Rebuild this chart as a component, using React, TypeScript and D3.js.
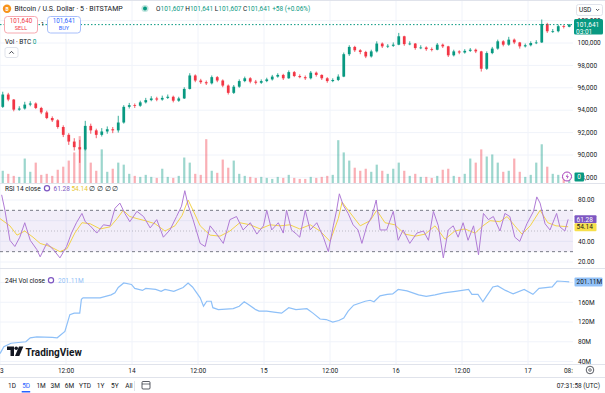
import React from 'react';
import * as d3 from 'd3';

// hourly candles from 2025-01-13 00:00 UTC (open of first = firstOpen, then previous close)
const firstOpen = 94300;
const closes = [
  95400, 94950, 94050, 94150, 94500, 94600, 94200, 93800, 93300, 93100,
  92500, 91800, 91200, 90700, 90500, 92600, 92200, 91800, 92100, 92300,
  92200, 92900, 94300, 94450, 94400, 94700, 94900, 95050, 94950, 95100,
  95200, 94850, 95050, 95900, 97100, 96650, 96500, 96400, 96950, 96650,
  96200, 95550, 96100, 96600, 96850, 96550, 96450, 96600, 96750, 97000,
  97150, 96850, 97400, 97050, 96950, 96850, 97350, 97150, 96850, 96600,
  96700, 97000, 99000, 99650, 99350, 99200, 98800, 99250, 99950, 99700,
  99750, 99850, 100600, 99900, 99950, 99550, 99600, 99450, 99400, 99850,
  99700, 98900, 99250, 99150, 99300, 99400, 99250, 97700, 99100, 99500,
  100150, 99850, 100300, 100050, 99700, 99800, 100000, 100050, 101700, 101050,
  101050, 101500, 101450, 101641,
];
const highs = [
  95650, 95550, 95000, 94350, 94750, 94800, 94700, 94300, 93950, 93450,
  93200, 92650, 91950, 91500, 91350, 93050, 92800, 92350, 92400, 92550,
  92500, 93500, 94450, 94650, 94600, 94850, 95100, 95250, 95200, 95300,
  95400, 95300, 95200, 96050, 97300, 97200, 96800, 96650, 97100, 97050,
  96750, 96300, 96250, 96750, 97000, 96950, 96700, 96750, 96900, 97150,
  97300, 97250, 97550, 97500, 97200, 97100, 97500, 97450, 97200, 96950,
  96850, 97200, 99150, 99800, 99750, 99450, 99300, 99400, 100150, 100050,
  99900, 100050, 100900, 100650, 100150, 100000, 99800, 99700, 99600, 100000,
  99950, 99750, 99400, 99350, 99450, 99550, 99500, 99300, 99250, 99650,
  100300, 100250, 100550, 100400, 100100, 99950, 100150, 100250, 102100, 101800,
  101250, 101650, 101600, 101700,
];
const lows = [
  94200, 94800, 93900, 93950, 94050, 94350, 94100, 93650, 93200, 92950,
  92350, 91600, 90900, 90400, 89300, 90400, 91900, 91500, 91650, 91900,
  91950, 92000, 92800, 94150, 94200, 94300, 94600, 94800, 94800, 94850,
  95000, 94700, 94750, 95000, 95850, 96500, 96350, 96250, 96300, 96500,
  96050, 95400, 95450, 96000, 96500, 96400, 96300, 96350, 96500, 96650,
  96900, 96700, 96800, 96950, 96850, 96700, 96750, 97000, 96700, 96450,
  96500, 96600, 96950, 98850, 99200, 99000, 98650, 98700, 99150, 99550,
  99550, 99650, 99800, 99750, 99800, 99400, 99450, 99300, 99250, 99350,
  99550, 98750, 98800, 99000, 99050, 99200, 99100, 97450, 97600, 99000,
  99400, 99700, 99750, 99900, 99500, 99600, 99700, 99900, 100000, 100900,
  100900, 100950, 101300, 101400,
];
const volumes = [
  120, 90, 70, 60, 240, 110, 200, 80, 90, 70,
  130, 160, 220, 300, 460, 350, 200, 120, 330, 110,
  140, 200, 180, 90, 70, 60, 80, 60, 50, 140,
  60, 50, 70, 250, 200, 90, 80, 430, 120, 100,
  230, 150, 220, 90, 70, 60, 50, 60, 50, 40,
  60, 50, 80, 50, 40, 40, 60, 50, 60, 70,
  80, 420, 300, 220, 150, 120, 140, 110, 180, 120,
  90, 140, 200, 120, 70, 90, 60, 60, 50, 70,
  130, 140, 70, 60, 90, 240, 200, 330, 260, 280,
  200, 110, 120, 240, 110, 60, 80, 200, 380, 160,
  90, 80, 60, 40,
];

// RSI 14 (hours since 13 Jan 00:00 UTC)
const rsiHours = [
  0.3, 0.9, 1.8, 2.7, 3.6, 4.5, 5.5, 6.7, 7.3, 8.5,
  9.7, 10.9, 12.1, 13.0, 13.9, 14.9, 15.5, 16.4, 17.6, 18.8,
  20.0, 20.9, 21.8, 22.7, 23.6, 24.9, 26.1, 27.3, 28.5, 29.7,
  30.9, 32.1, 33.0, 33.6, 34.2, 35.1, 36.4, 37.3, 38.2, 39.4,
  40.6, 41.8, 43.0, 44.2, 45.5, 46.7, 47.9, 48.5, 49.4, 50.6,
  51.5, 52.1, 53.0, 53.9, 54.5, 55.5, 56.4, 57.6, 58.8, 59.7,
  60.6, 61.2, 61.7, 62.4, 63.3, 64.2, 65.1, 65.8, 66.7, 67.6,
  68.4, 69.1, 70.3, 71.5, 72.4, 73.3, 74.5, 75.8, 77.0, 77.9,
  78.8, 79.7, 80.6, 81.5, 82.4, 83.3, 84.2, 85.1, 86.1, 87.0,
  87.9, 88.8, 89.7, 90.9, 91.8, 92.7, 93.6, 94.5, 95.8, 97.0,
  97.6, 98.2, 99.1, 100.0, 101.2, 101.8, 102.7, 103.3,
];
const rsiValues = [
  85, 70, 41, 35, 44, 58, 41, 32, 25, 38,
  32, 24, 35, 48, 58, 67, 59, 55, 48, 56,
  55, 72, 77, 67, 59, 69, 64, 53, 61, 44,
  51, 64, 74, 89, 75, 61, 38, 35, 55, 47,
  38, 61, 64, 51, 58, 47, 55, 70, 51, 58,
  48, 70, 51, 47, 44, 70, 51, 58, 44, 30,
  55, 70, 86, 75, 67, 56, 51, 38, 55, 64,
  80, 51, 51, 69, 41, 51, 38, 48, 50, 41,
  69, 55, 24, 51, 55, 44, 58, 41, 55, 27,
  67, 61, 64, 50, 67, 64, 44, 40, 57, 69,
  83, 77, 57, 51, 67, 54, 50, 61.28,
];
const rsiMaHours = [
  0, 1.8, 3.1, 4.5, 6.0, 7.3, 9.1, 10.9, 12.2, 13.6,
  14.9, 16.4, 18.2, 20.0, 21.3, 22.4, 23.6, 24.9, 26.4, 28.2,
  30.0, 31.8, 33.1, 34.2, 35.1, 36.4, 38.2, 40.0, 41.8, 43.6,
  45.5, 47.3, 49.1, 50.9, 52.7, 54.5, 56.4, 58.2, 60.0, 61.5,
  62.2, 63.6, 65.5, 67.3, 68.5, 70.0, 71.8, 73.6, 75.5, 77.3,
  79.1, 80.9, 82.7, 84.5, 86.4, 87.8, 89.1, 90.9, 92.2, 93.6,
  94.9, 96.4, 98.2, 99.6, 101.1, 103.3,
];
const rsiMaValues = [
  62, 55, 46, 50, 44, 38, 35, 30, 33, 48,
  58, 57, 52, 54, 62, 70, 64, 62, 60, 57,
  50, 55, 65, 80, 70, 55, 46, 45, 50, 58,
  56, 52, 56, 55, 56, 52, 56, 50, 40, 62,
  78, 68, 55, 60, 70, 58, 56, 47, 45, 47,
  55, 42, 50, 52, 48, 55, 60, 59, 64, 55,
  47, 55, 70, 58, 55, 54.14,
];

// 24H volume (millions)
const vol24Hours = [
  0, 0.7, 2.0, 4.7, 5.5, 6.7, 9.5, 10.4, 11.8, 12.7,
  13.5, 14.5, 14.8, 15.1, 18.2, 20.2, 20.9, 21.5, 22.5, 23.9,
  24.5, 25.9, 26.5, 28.3, 29.3, 30.0, 31.6, 33.3, 34.2, 35.0,
  36.4, 37.0, 37.6, 38.4, 38.7, 39.7, 42.4, 43.5, 44.4, 45.1,
  46.5, 47.1, 48.5, 49.8, 51.2, 52.5, 53.8, 55.8, 56.9, 58.2,
  59.3, 60.5, 61.6, 62.5, 63.3, 64.3, 66.4, 67.3, 68.0, 69.1,
  70.4, 71.4, 72.4, 74.0, 76.1, 77.5, 79.1, 80.7, 82.8, 85.2,
  85.8, 86.9, 87.8, 88.5, 89.6, 90.5, 91.9, 93.3, 95.3, 96.9,
  98.0, 100.4, 101.3, 102.7, 103.5,
];
const vol24Values = [
  56, 70, 77, 80, 88, 90, 89, 88, 101, 135,
  138, 138, 166, 169, 169, 175, 179, 190, 199, 196,
  188, 184, 188, 186, 182, 186, 182, 190, 199, 191,
  169, 152, 162, 162, 149, 145, 147, 152, 161, 156,
  145, 142, 142, 140, 138, 149, 145, 147, 138, 126,
  125, 120, 123, 128, 142, 154, 162, 164, 161, 173,
  176, 177, 186, 183, 175, 172, 175, 179, 182, 186,
  176, 176, 161, 173, 191, 193, 184, 177, 186, 176,
  188, 191, 203, 202, 201.11,
];

const priceTicks = [88000, 90000, 92000, 94000, 96000, 98000, 100000, 102000];
const rsiTicks = [20, 40, 80];
const vol24Ticks = [40, 80, 120, 160];
const rangeButtons = ['1D', '5D', '1M', '3M', '6M', 'YTD', '1Y', '5Y', 'All'];

const UP = '#089981';
const DOWN = '#F23645';
const TXT = '#131722';
const GRID = '#F0F3FA';
const SEP = '#E0E3EB';
const PLOT_W = 573;

const T0 = Date.UTC(2025, 0, 13, 0);
const hourDate = (h: number) => new Date(T0 + h * 3600e3);

export default function App() {
  const x = d3.scaleUtc().domain([hourDate(0), hourDate(104)]).range([0, 572]);
  const priceY = d3.scaleLinear().domain([88000, 102000]).range([177.4, 20.6]);
  const volY = d3.scaleLinear().domain([0, 520]).range([183, 130]);
  const rsiY = d3.scaleLinear().domain([20, 80]).range([262, 200]);
  const v24Y = d3.scaleLinear().domain([40, 200]).range([361.5, 282.5]);

  const candles = closes.map((c, i) => ({
    t: i + 0.5,
    o: i === 0 ? firstOpen : closes[i - 1],
    h: highs[i],
    l: lows[i],
    c,
    v: volumes[i],
  }));
  const step = x(hourDate(1)) - x(hourDate(0));
  const bw = step * 0.5;
  const vw = step * 0.4;

  const rsiLine = d3.line<number>().x((_, i) => x(hourDate(rsiHours[i]))).y(d => rsiY(d));
  const maLine = d3.line<number>().x((_, i) => x(hourDate(rsiMaHours[i]))).y(d => rsiY(d));
  const v24Line = d3.line<number>().x((_, i) => x(hourDate(vol24Hours[i]))).y(d => v24Y(d));

  const gridTimes = d3.utcHour.every(12)!.range(hourDate(0), hourDate(104));
  const fmtTick = (d: Date) => (d.getUTCHours() === 0 ? d3.utcFormat('%-d')(d) : d3.utcFormat('%H:%M')(d));
  const timeTicks = [...gridTimes, hourDate(104)];

  const last = closes[closes.length - 1];
  const lastY = priceY(last);
  const fmtP = d3.format(',');

  let bx = 8;
  const buttons = rangeButtons.map(b => {
    const pos = bx;
    bx += b.length * 3.6 + 7;
    return { b, pos };
  });

  return (
    <svg width={605} height={393} style={{ position: 'fixed', left: 0, top: 0, background: '#fff' }}
      fontFamily="Roboto, 'Noto Sans', sans-serif">
      <defs>
        <clipPath id="cMain"><rect x={0} y={0} width={PLOT_W} height={183} /></clipPath>
        <clipPath id="cRsi"><rect x={0} y={184} width={PLOT_W} height={84} /></clipPath>
        <clipPath id="cV24"><rect x={0} y={269} width={PLOT_W} height={95} /></clipPath>
        <clipPath id="cTime"><rect x={0} y={364} width={PLOT_W} height={13} /></clipPath>
      </defs>
      <rect width={605} height={393} fill="#fff" />

      {/* grid */}
      {gridTimes.map((d, i) => (
        <line key={'vg' + i} x1={x(d)} x2={x(d)} y1={0} y2={364} stroke={GRID} />
      ))}
      {priceTicks.map(p => (
        <line key={'pg' + p} x1={0} x2={PLOT_W} y1={priceY(p)} y2={priceY(p)} stroke={GRID} />
      ))}
      {[...rsiTicks, 60].map(r => (
        <line key={'rg' + r} x1={0} x2={PLOT_W} y1={rsiY(r)} y2={rsiY(r)} stroke={GRID} />
      ))}
      {[...vol24Ticks, 200].map(v => (
        <line key={'v24g' + v} x1={0} x2={PLOT_W} y1={v24Y(v)} y2={v24Y(v)} stroke={GRID} />
      ))}

      {/* main pane: volume + candles */}
      <g clipPath="url(#cMain)">
        {candles.map((d, i) => (
          <rect key={'v' + i} x={x(hourDate(d.t)) - vw / 2} width={vw} y={volY(d.v)} height={volY(0) - volY(d.v)}
            fill={d.c >= d.o ? UP : DOWN} fillOpacity={0.4} />
        ))}
        {candles.map((d, i) => {
          const cx = x(hourDate(d.t));
          const col = d.c >= d.o ? UP : DOWN;
          const top = priceY(Math.max(d.o, d.c));
          const bot = priceY(Math.min(d.o, d.c));
          return (
            <g key={'c' + i}>
              <line x1={cx} x2={cx} y1={priceY(d.h)} y2={priceY(d.l)} stroke={col} strokeWidth={0.8} />
              <rect x={cx - bw / 2} width={bw} y={top} height={Math.max(0.8, bot - top)} fill={col} />
            </g>
          );
        })}
        <line x1={0} x2={PLOT_W} y1={lastY} y2={lastY} stroke={UP} strokeDasharray="1.5,2" />
      </g>

      {/* RSI pane */}
      <g clipPath="url(#cRsi)">
        <rect x={0} width={PLOT_W} y={rsiY(70)} height={rsiY(30) - rsiY(70)} fill="rgba(126,87,194,0.1)" />
        <line x1={0} x2={PLOT_W} y1={rsiY(70)} y2={rsiY(70)} stroke="#787B86" strokeDasharray="3,3" />
        <line x1={0} x2={PLOT_W} y1={rsiY(30)} y2={rsiY(30)} stroke="#787B86" strokeDasharray="3,3" />
        <line x1={0} x2={PLOT_W} y1={rsiY(50)} y2={rsiY(50)} stroke="rgba(120,123,134,0.45)" strokeDasharray="1,2" />
        <path d={maLine(rsiMaValues) || ''} fill="none" stroke="#F3D34A" strokeWidth={1} />
        <path d={rsiLine(rsiValues) || ''} fill="none" stroke="#B07BD6" strokeWidth={1} />
      </g>

      {/* 24H vol pane */}
      <g clipPath="url(#cV24)">
        <path d={v24Line(vol24Values) || ''} fill="none" stroke="#8EC0F8" strokeWidth={1.2} />
      </g>

      {/* pane separators */}
      <line x1={0} x2={605} y1={183.5} y2={183.5} stroke={SEP} />
      <line x1={0} x2={605} y1={268.5} y2={268.5} stroke={SEP} />
      <line x1={0} x2={605} y1={364.5} y2={364.5} stroke={SEP} />
      <line x1={0} x2={605} y1={0.5} y2={0.5} stroke={SEP} />

      {/* price axis */}
      <g fontSize={6.5} fill={TXT}>
        {priceTicks.map(p => (
          <text key={'pt' + p} x={577.5} y={priceY(p)} dy="0.35em">{fmtP(p)}</text>
        ))}
        {rsiTicks.map(r => (
          <text key={'rt' + r} x={578} y={rsiY(r)} dy="0.35em">{r.toFixed(2)}</text>
        ))}
        {vol24Ticks.map(v => (
          <text key={'vt' + v} x={578} y={v24Y(v)} dy="0.35em">{v + 'M'}</text>
        ))}
      </g>

      {/* USD dropdown */}
      <rect x={576.5} y={4.5} width={26} height={11} rx={2} fill="#fff" stroke={SEP} />
      <text x={579} y={12.3} fontSize={6.5} fill={TXT}>USD</text>
      <path d="M596 9 l1.6 1.6 l1.6 -1.6" fill="none" stroke={TXT} strokeWidth={0.7} />

      {/* last price label */}
      <rect x={574} y={lastY - 5.5} width={29} height={15.5} rx={1.5} fill={UP} />
      <text x={576} y={lastY} dy="0.35em" fontSize={6.5} fill="#fff">{fmtP(last)}</text>
      <text x={576} y={lastY + 7.5} dy="0.35em" fontSize={6.5} fill="#fff">03:01</text>

      {/* volume last value */}
      <circle cx={567} cy={176.5} r={4.5} fill="#fff" stroke="#9C27B0" strokeWidth={0.9} />
      <path d="M567.8 173.8 l-2 3 h1.6 l-0.8 2.6 l2.2 -3.2 h-1.6 z" fill="#9C27B0" />
      <rect x={574.5} y={172.5} width={9.5} height={9} rx={1} fill={UP} />
      <text x={579.2} y={177} dy="0.35em" fontSize={6.5} fill="#fff" textAnchor="middle">0</text>

      {/* RSI labels */}
      <rect x={574.5} y={rsiY(61.28) - 4} width={22} height={8} rx={1} fill="#7E57C2" />
      <text x={576.5} y={rsiY(61.28)} dy="0.35em" fontSize={6.5} fill="#fff">61.28</text>
      <rect x={574.5} y={rsiY(54.14) - 3.5} width={22} height={8} rx={1} fill="#F7E04B" />
      <text x={576.5} y={rsiY(54.14) + 0.5} dy="0.35em" fontSize={6.5} fill={TXT}>54.14</text>

      {/* 24H label */}
      <rect x={574.5} y={v24Y(201.11) - 4.5} width={28} height={9} rx={1} fill="#91C1F8" />
      <text x={576.5} y={v24Y(201.11)} dy="0.35em" fontSize={6.5} fill={TXT}>201.11M</text>

      {/* time axis */}
      <g clipPath="url(#cTime)" fontSize={6.5} fill={TXT}>
        {timeTicks.map((d, i) => (
          <text key={'tt' + i} x={x(d)} y={370.5} dy="0.35em" textAnchor="middle">{fmtTick(d)}</text>
        ))}
      </g>
      <circle cx={590} cy={370} r={3.8} fill="none" stroke={TXT} strokeWidth={0.7} />
      <circle cx={590} cy={370} r={1.3} fill="none" stroke={TXT} strokeWidth={0.6} />

      {/* bottom toolbar */}
      <line x1={0} x2={605} y1={377.5} y2={377.5} stroke={SEP} />
      <g fontSize={6.5}>
        {buttons.map(({ b, pos }) => (
          <text key={b} x={pos} y={388} fill={b === '5D' ? '#2962FF' : TXT}>{b}</text>
        ))}
      </g>
      {buttons.filter(d => d.b === '5D').map(d => (
        <rect key="ul" x={d.pos - 0.5} y={391} width={8.5} height={1.5} fill="#2962FF" />
      ))}
      <line x1={134.5} x2={134.5} y1={381} y2={391} stroke={SEP} />
      <rect x={142} y={381.5} width={8} height={7.5} rx={1} fill="none" stroke={TXT} strokeWidth={0.7} />
      <line x1={142} x2={150} y1={384} y2={384} stroke={TXT} strokeWidth={0.6} />
      <text x={600} y={388} fontSize={6.5} fill={TXT} textAnchor="end">07:31:58 (UTC)</text>

      {/* TradingView logo */}
      <g fill={TXT}>
        <path d="M7 346.5 h7 v9.5 h-3.5 v-6 h-3.5 z" />
        <circle cx={16.2} cy={348.3} r={1.8} />
        <path d="M19 346.5 h4.3 l-4 9.5 h-4.3 z" />
        <text x={25.5} y={355.5} fontSize={10} fontWeight="bold">TradingView</text>
      </g>

      {/* collapse button */}
      <rect x={5} y={47.5} width={13} height={10} rx={2} fill="#fff" stroke={SEP} />
      <path d="M9.3 53.6 l2.2 -2.2 l2.2 2.2" fill="none" stroke={TXT} strokeWidth={0.8} />

      {/* header legend */}
      <circle cx={7} cy={8.8} r={4.2} fill="#F7931A" />
      <text x={7} y={8.8} dy="0.35em" fontSize={5} fontWeight="bold" fill="#fff" textAnchor="middle">B</text>
      <text x={14.5} y={11.2} fontSize={7} fill={TXT}>Bitcoin / U.S. Dollar · 5 · BITSTAMP</text>
      <circle cx={145} cy={8.5} r={3.6} fill="rgba(8,153,129,0.25)" />
      <circle cx={145} cy={8.5} r={2} fill={UP} />
      <text x={156} y={11.2} fontSize={6.5} fill={TXT}>
        O<tspan fill={UP}>101,607</tspan> H<tspan fill={UP}>101,641</tspan> L<tspan fill={UP}>101,607</tspan> C<tspan fill={UP}>101,641</tspan> <tspan fill={UP}>+58 (+0.06%)</tspan>
      </text>

      {/* sell / buy */}
      <rect x={4.5} y={16.5} width={33} height={16.5} rx={3} fill="#fff" stroke="#F7A9B0" />
      <text x={21} y={22.5} fontSize={6.3} fill={DOWN} textAnchor="middle">101,640</text>
      <text x={21} y={30} fontSize={5.5} fill={DOWN} textAnchor="middle">SELL</text>
      <text x={42.5} y={26.3} fontSize={5.5} fill={TXT} textAnchor="middle">1</text>
      <rect x={47.5} y={16.5} width={33} height={16.5} rx={3} fill="#fff" stroke="#A8BFFB" />
      <text x={64} y={22.5} fontSize={6.3} fill="#2962FF" textAnchor="middle">101,641</text>
      <text x={64} y={30} fontSize={5.5} fill="#2962FF" textAnchor="middle">BUY</text>

      <text x={5} y={44} fontSize={6.5} fill={TXT}>Vol · BTC <tspan fill={UP}>0</tspan></text>

      {/* RSI legend */}
      <text x={5} y={190.5} fontSize={6.5} fill={TXT}>RSI 14 close</text>
      <circle cx={47} cy={188.3} r={2.6} fill="none" stroke="#7E57C2" strokeWidth={1.2} />
      <text x={53.5} y={190.5} fontSize={6.5}>
        <tspan fill="#7E57C2">61.28</tspan> <tspan fill="#E8C62C">54.14</tspan> <tspan fill={TXT}>∅ ∅ ∅ ∅</tspan>
      </text>

      {/* 24H legend */}
      <text x={5} y={282.5} fontSize={6.5} fill={TXT}>24H Vol close</text>
      <circle cx={51} cy={280.3} r={2.6} fill="none" stroke="#7E57C2" strokeWidth={1.2} />
      <text x={58} y={282.5} fontSize={6.5} fill="#90BFF7">201.11M</text>
    </svg>
  );
}
